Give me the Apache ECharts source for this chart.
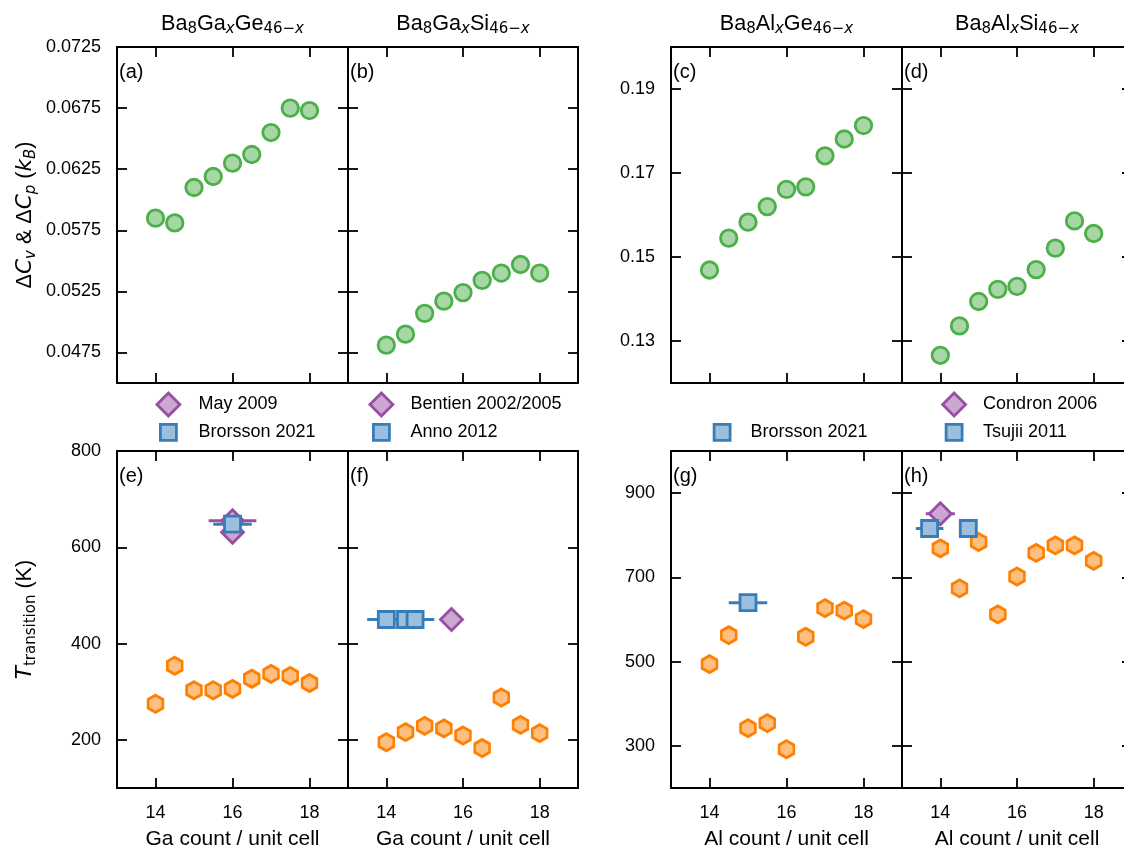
<!DOCTYPE html>
<html><head><meta charset="utf-8">
<script src="https://cdn.jsdelivr.net/npm/echarts@6/dist/echarts.min.js"></script>
<style>html,body{margin:0;padding:0;background:#fff}#c{width:1124px;height:850px}</style>
</head><body><div id="c"></div><script>
// ---------- data ----------
const count = [14, 14.5, 15, 15.5, 16, 16.5, 17, 17.5, 18];
const dC_BaGaGe = [0.0585, 0.0581, 0.0610, 0.0619, 0.0630, 0.0637, 0.0655, 0.0675, 0.0673];
const dC_BaGaSi = [0.0481, 0.0490, 0.0507, 0.0517, 0.0524, 0.0534, 0.0540, 0.0547, 0.0540];
const dC_BaAlGe = [0.1469, 0.1545, 0.1583, 0.1620, 0.1661, 0.1667, 0.1741, 0.1781, 0.1813];
const dC_BaAlSi = [0.1266, 0.1336, 0.1394, 0.1423, 0.1430, 0.1470, 0.1521, 0.1586, 0.1556];
const T_BaGaGe = [275, 354, 303, 303, 306, 327, 337, 333, 318];
const T_BaGaSi = [195, 216, 229, 224, 209, 183, 288, 231, 214];
const T_BaAlGe = [494, 563, 342, 354, 292, 559, 627, 621, 601];
const T_BaAlSi = [769, 674, 784, 612, 702, 758, 776, 776, 739];

const may2009X = [16, 16], may2009Y = [655, 631], may2009Xerr = [0.62, 0];
const brorssonGaGeX = [16], brorssonGaGeY = [648], brorssonGaGeXerr = [0.5];
const bentienX = [15.7], bentienY = [450], bentienXerr = [0];
const annoX = [14, 14.5, 14.75], annoY = [450, 450, 450], annoXerr = [0.5, 0.5, 0.5];
const brorssonAlGeX = [15], brorssonAlGeY = [640], brorssonAlGeXerr = [0.5];
const condronX = [14], condronY = [851], condronXerr = [0.38];
const tsujiiX = [13.72, 14.73], tsujiiY = [816, 816], tsujiiXerr = [0.36, 0];

const xTickValues = [14, 16, 18];
const dCTicksGa = [0.0475, 0.0525, 0.0575, 0.0625, 0.0675, 0.0725];
const dCTicksAl = [0.13, 0.15, 0.17, 0.19];
const TTicksGa = [200, 400, 600, 800];
const TTicksAl = [300, 500, 700, 900];
const panelLabels = ['(a)','(b)','(c)','(d)','(e)','(f)','(g)','(h)'];
const xNames = ['Ga count / unit cell','Ga count / unit cell','Al count / unit cell','Al count / unit cell'];

// ---------- style ----------
const FONT = 'Liberation Sans';
const GREEN = ['#a6d7a4', '#4daf4a'];
const ORANGE = ['#ffbf80', '#ff7f00'];
const BLUE = ['#9bbfdc', '#377eb8'];
const PURPLE = ['#cca7d1', '#984ea3'];
const HEX = 'path://M0,-1L0.866,-0.5L0.866,0.5L0,1L-0.866,0.5L-0.866,-0.5Z';

const grids = [
  {left:117, top:47, width:231, height:336},
  {left:348, top:47, width:230, height:336},
  {left:671, top:47, width:231, height:336},
  {left:902, top:47, width:230, height:336},
  {left:117, top:451, width:231, height:337},
  {left:348, top:451, width:230, height:337},
  {left:671, top:451, width:231, height:337},
  {left:902, top:451, width:230, height:337}
].map(g => Object.assign(g, {outerBoundsMode:'none', containLabel:false}));
const yRanges = [[0.045,0.0725],[0.045,0.0725],[0.12,0.2],[0.12,0.2],[100,800],[100,800],[200,1000],[200,1000]];
const yTicks = [dCTicksGa,dCTicksGa,dCTicksAl,dCTicksAl,TTicksGa,TTicksGa,TTicksAl,TTicksAl];
const yDec = [4,4,2,2,0,0,0,0];

const mathRich = {
  t:{fontSize:21.6, fontFamily:FONT, fontWeight:'normal', lineHeight:28, color:'#000'},
  i:{fontSize:21.6, fontFamily:'DejaVu Sans', fontWeight:'normal', fontStyle:'italic', lineHeight:28, color:'#000'},
  sb:{fontSize:15, fontFamily:'DejaVu Sans', fontWeight:'normal', fontStyle:'italic', verticalAlign:'bottom', lineHeight:18, color:'#000'},
  su:{fontSize:15, fontFamily:'DejaVu Sans', fontWeight:'normal', verticalAlign:'bottom', lineHeight:18, color:'#000'}
};
const yNames = {
  0: '{t|Δ}{i|C}{sb|v}{t| & Δ}{i|C}{sb|p}{t| (}{i|k}{sb|B}{t|)}',
  4: '{i|T}{su|transition}{t| (K)}'
};

const xAxes = [], yAxes = [];
grids.forEach((g, i) => {
  ['bottom','top'].forEach(pos => {
    const lab = pos === 'bottom' && i >= 4;
    xAxes.push({type:'value', gridIndex:i, position:pos, min:13, max:19,
      axisLine:{show:true, onZero:false, lineStyle:{color:'#000', width:2}},
      axisTick:{show:true, inside:true, length:10, customValues:xTickValues, lineStyle:{color:'#000', width:1.8}},
      axisLabel:{show:lab, customValues:xTickValues, margin:16, fontSize:18, color:'#000', fontFamily:FONT},
      splitLine:{show:false},
      name: lab ? xNames[i-4] : '', nameLocation:'middle', nameGap:41,
      nameTextStyle:{fontSize:21, color:'#000', fontFamily:FONT}});
  });
  ['left','right'].forEach(pos => {
    const lab = pos === 'left' && (i % 2 === 0);
    const nm = (pos === 'left' && yNames[i]) ? yNames[i] : '';
    yAxes.push({type:'value', gridIndex:i, position:pos, min:yRanges[i][0], max:yRanges[i][1],
      axisLine:{show:true, onZero:false, lineStyle:{color:'#000', width:2}},
      axisTick:{show:true, inside:true, length:10, customValues:yTicks[i], lineStyle:{color:'#000', width:1.8}},
      axisLabel:{show:lab, customValues:yTicks[i], margin:16, fontSize:18, color:'#000', fontFamily:FONT,
        formatter: v => Number(v).toFixed(yDec[i])},
      splitLine:{show:false},
      name: nm, nameLocation:'middle', nameGap:78,
      nameTextStyle:{rich:mathRich}});
  });
});

const series = [];
function errbar(i, xs, ys, errs, col) {
  series.push({type:'custom', xAxisIndex:2*i, yAxisIndex:2*i, silent:true,
    data: xs.map((x,k) => [x, ys[k], errs[k]]), encode:{x:0, y:1},
    renderItem: (p, api) => {
      const x = api.value(0), y = api.value(1), e = api.value(2);
      if (!e) return {type:'group', children:[]};
      const a = api.coord([x - e, y]), b = api.coord([x + e, y]);
      return {type:'line', shape:{x1:a[0], y1:a[1], x2:b[0], y2:b[1]}, style:{stroke:col, lineWidth:3}};
    }});
}
function scatter(name, i, xs, ys, sym, size, c) {
  series.push({type:'scatter', name, xAxisIndex:2*i, yAxisIndex:2*i, symbol:sym, symbolSize:size,
    itemStyle:{color:c[0], borderColor:c[1], borderWidth:2.8, opacity:1},
    emphasis:{disabled:true}, data: xs.map((x,k) => [x, ys[k]])});
}
const CIRC = 16.5, HEXS = [14.8, 17], SQ = 16, DIA = 22;
scatter('calc a', 0, count, dC_BaGaGe, 'circle', CIRC, GREEN);
scatter('calc b', 1, count, dC_BaGaSi, 'circle', CIRC, GREEN);
scatter('calc c', 2, count, dC_BaAlGe, 'circle', CIRC, GREEN);
scatter('calc d', 3, count, dC_BaAlSi, 'circle', CIRC, GREEN);
scatter('calc e', 4, count, T_BaGaGe, HEX, HEXS, ORANGE);
scatter('calc f', 5, count, T_BaGaSi, HEX, HEXS, ORANGE);
scatter('calc g', 6, count, T_BaAlGe, HEX, HEXS, ORANGE);
scatter('calc h', 7, count, T_BaAlSi, HEX, HEXS, ORANGE);

errbar(4, may2009X, may2009Y, may2009Xerr, PURPLE[1]);
scatter('May 2009', 4, may2009X, may2009Y, 'diamond', DIA, PURPLE);
errbar(4, brorssonGaGeX, brorssonGaGeY, brorssonGaGeXerr, BLUE[1]);
scatter('Brorsson 2021', 4, brorssonGaGeX, brorssonGaGeY, 'rect', SQ, BLUE);

errbar(5, bentienX, bentienY, bentienXerr, PURPLE[1]);
scatter('Bentien 2002/2005', 5, bentienX, bentienY, 'diamond', DIA, PURPLE);
errbar(5, annoX, annoY, annoXerr, BLUE[1]);
scatter('Anno 2012', 5, annoX, annoY, 'rect', SQ, BLUE);

errbar(6, brorssonAlGeX, brorssonAlGeY, brorssonAlGeXerr, BLUE[1]);
scatter('Brorsson 2021', 6, brorssonAlGeX, brorssonAlGeY, 'rect', SQ, BLUE);

errbar(7, condronX, condronY, condronXerr, PURPLE[1]);
scatter('Condron 2006', 7, condronX, condronY, 'diamond', DIA, PURPLE);
errbar(7, tsujiiX, tsujiiY, tsujiiXerr, BLUE[1]);
scatter('Tsujii 2011', 7, tsujiiX, tsujiiY, 'rect', SQ, BLUE);

// legends: one per entry
function leg(name, icon, c, cx, cy, textX) {
  const w = icon === 'diamond' ? 23 : 16;
  const left = cx - w/2;
  return {data:[{name, icon}], left, top: cy - w/2, itemWidth:w, itemHeight:w, padding:0,
    selectedMode:false, itemStyle:{color:c[0], borderColor:c[1], borderWidth:2.8},
    textStyle:{fontSize:18, color:'#000', fontFamily:FONT, padding:[0,0,0, textX - (left + w + 5)]}};
}
const legends = [
  leg('May 2009','diamond',PURPLE,167,403,197),
  leg('Brorsson 2021','rect',BLUE,167,431,197),
  leg('Bentien 2002/2005','diamond',PURPLE,380,403,409),
  leg('Anno 2012','rect',BLUE,380,431,409),
  leg('Brorsson 2021','rect',BLUE,720.7,431,749),
  leg('Condron 2006','diamond',PURPLE,952.7,403,981.7),
  leg('Tsujii 2011','rect',BLUE,952.7,431,981.7)
];

const titleRich = {
  m:{fontSize:21.6, fontFamily:FONT, fontWeight:'normal', lineHeight:26, color:'#000'},
  s:{fontSize:15, fontFamily:'DejaVu Sans', fontWeight:'normal', verticalAlign:'bottom', lineHeight:15, color:'#000'},
  si:{fontSize:15, fontFamily:'DejaVu Sans', fontWeight:'normal', fontStyle:'italic', verticalAlign:'bottom', lineHeight:15, color:'#000'}
};
const colTitles = [
  '{m|Ba}{s|8}{m|Ga}{si|x}{m|Ge}{s|46−}{si|x}',
  '{m|Ba}{s|8}{m|Ga}{si|x}{m|Si}{s|46−}{si|x}',
  '{m|Ba}{s|8}{m|Al}{si|x}{m|Ge}{s|46−}{si|x}',
  '{m|Ba}{s|8}{m|Al}{si|x}{m|Si}{s|46−}{si|x}'
];
const titles = [];
colTitles.forEach((t, k) => {
  const g = grids[k];
  titles.push({text:t, left:g.left + g.width/2, top:11, textAlign:'center', padding:0,
    textStyle:{fontWeight:'normal', rich:titleRich}});
});
panelLabels.forEach((t, k) => {
  const g = grids[k];
  titles.push({text:t, left:g.left + 2, top:g.top + 15, padding:0,
    textStyle:{fontSize:20, fontWeight:'normal', color:'#000', fontFamily:FONT}});
});

const chart = echarts.init(document.getElementById('c'), null, {renderer:'canvas'});
chart.setOption({
  backgroundColor:'#fff', animation:false,
  textStyle:{fontFamily:FONT},
  title: titles, legend: legends, grid: grids, xAxis: xAxes, yAxis: yAxes, series
});
</script></body></html>
